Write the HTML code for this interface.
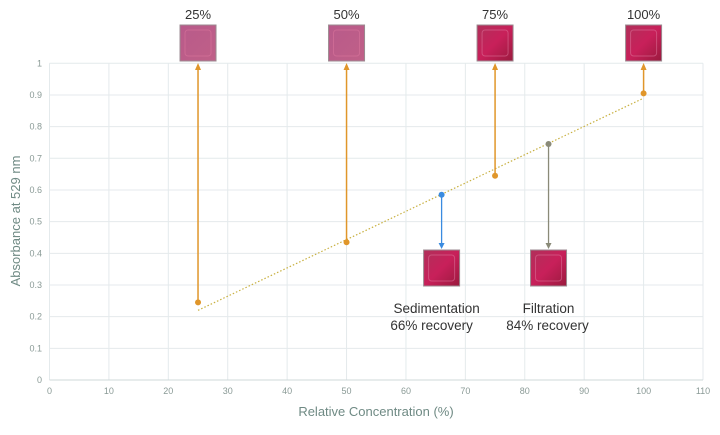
<!DOCTYPE html>
<html><head><meta charset="utf-8"><style>
body{margin:0;background:#fff;}
svg{font-family:"Liberation Sans",sans-serif;}
</style></head><body>
<svg id="chart" width="720" height="430" viewBox="0 0 720 430" xmlns="http://www.w3.org/2000/svg">
<defs>
<linearGradient id="well" x1="0" y1="0" x2="1" y2="1"><stop offset="0" stop-color="#b0305a"/><stop offset="0.5" stop-color="#c8205a"/><stop offset="1" stop-color="#9a1a3e"/></linearGradient>
<linearGradient id="wellLight" x1="0" y1="0" x2="1" y2="1"><stop offset="0" stop-color="#b85a8a"/><stop offset="1" stop-color="#c06088"/></linearGradient>
</defs>
<g id="grid"></g><g id="axes"></g><g id="marks"></g>
<text x="376" y="416" text-anchor="middle" font-size="13" fill="#6f8a84">Relative Concentration (%)</text>
<text transform="translate(20,221) rotate(-90)" text-anchor="middle" font-size="13" fill="#6f8a84">Absorbance at 529 nm</text>
</svg>
<script>
const xTicks=[0,10,20,30,40,50,60,70,80,90,100,110];
const yTicks=[0,0.1,0.2,0.3,0.4,0.5,0.6,0.7,0.8,0.9,1];
const stdX=[25,50,75,100];
const stdY=[0.245,0.435,0.645,0.905];
const stdLabels=['25%','50%','75%','100%'];
const sampleX=[66,84];
const sampleY=[0.585,0.745];
const sampleNames=['Sedimentation','Filtration'];
const sampleRecovery=['66% recovery','84% recovery'];
const sampleColors=['#3a8be0','#8a8a78'];
const trendX=[25,100];
const trendY=[0.22,0.89];
const X=v=>49.5+v*(653.5/110);
const Y=v=>380-v*316.7;
const NS='http://www.w3.org/2000/svg';
function mk(p,t,a){const e=document.createElementNS(NS,t);for(const k in a)e.setAttribute(k,a[k]);p.appendChild(e);return e;}
const g=document.getElementById('grid'),ax=document.getElementById('axes'),m=document.getElementById('marks');
xTicks.forEach(v=>{
 const l=mk(g,'line',{x1:X(v),x2:X(v),y1:Y(1),y2:Y(0),stroke:'#e4eaec','stroke-width':1});
 
 
 const t=mk(ax,'text',{x:X(v),y:394,'text-anchor':'middle','font-size':9,fill:'#8a9a96'});t.textContent=v;
 
 
});
yTicks.forEach(v=>{
 const l=mk(g,'line',{x1:X(0),x2:X(110),y1:Y(v),y2:Y(v),stroke:'#e4eaec','stroke-width':1});
 
 
 const t=mk(ax,'text',{x:42,y:Y(v)+3,'text-anchor':'end','font-size':9,fill:'#8a9a96'});t.textContent=v;
 
 
});
const xa=mk(ax,'line',{x1:X(0),x2:X(110),y1:Y(0),y2:Y(0),stroke:'#cfd8da'});


const tl=mk(m,'line',{x1:X(trendX[0]),y1:Y(trendY[0]),x2:X(trendX[1]),y2:Y(trendY[1]),stroke:'#c8b040','stroke-width':1.2,'stroke-dasharray':'1.5 2'});


function well(x,y,name,light){
 const r=mk(m,'rect',{x:x-18,y:y,width:36,height:36,fill:light?'url(#wellLight)':'url(#well)',stroke:'#9b8a90','stroke-width':1});
 
 
 mk(m,'rect',{x:x-13,y:y+5,width:26,height:26,fill:'none',stroke:'#e07aa0','stroke-opacity':0.5,rx:3});
}
stdX.forEach((v,i)=>{
 const px=X(v),py=Y(stdY[i]);
 const a=mk(m,'line',{x1:px,y1:py,x2:px,y2:68,stroke:'#e0962a','stroke-width':1.5});
 
 
 mk(m,'path',{d:`M${px-3},70 L${px+3},70 L${px},63 Z`,fill:'#e0962a'});
 const c=mk(m,'circle',{cx:px,cy:py,r:3,fill:'#e0962a'});
 
 
 well(px,25,'standard-well-image',i<2);
 const t=mk(m,'text',{x:px,y:19,'text-anchor':'middle','font-size':13,fill:'#333'});t.textContent=stdLabels[i];
 
 
});
sampleX.forEach((v,i)=>{
 const px=X(v),py=Y(sampleY[i]);
 const a=mk(m,'line',{x1:px,y1:py,x2:px,y2:244,stroke:sampleColors[i],'stroke-width':1.3});
 
 
 mk(m,'path',{d:`M${px-3},243 L${px+3},243 L${px},249 Z`,fill:sampleColors[i]});
 const c=mk(m,'circle',{cx:px,cy:py,r:3,fill:sampleColors[i]});
 
 
 well(px,250,'sample-well-image',false);
 const off=i===0?-5:0;
 const t1=mk(m,'text',{x:px+off,y:313,'text-anchor':'middle','font-size':13.5,fill:'#333'});t1.textContent=sampleNames[i];
 
 
 const t2=mk(m,'text',{x:px+off-5+(i===1?4:0),y:330,'text-anchor':'middle','font-size':13.5,fill:'#333'});t2.textContent=sampleRecovery[i];
 
 
});
</script>
</body></html>
